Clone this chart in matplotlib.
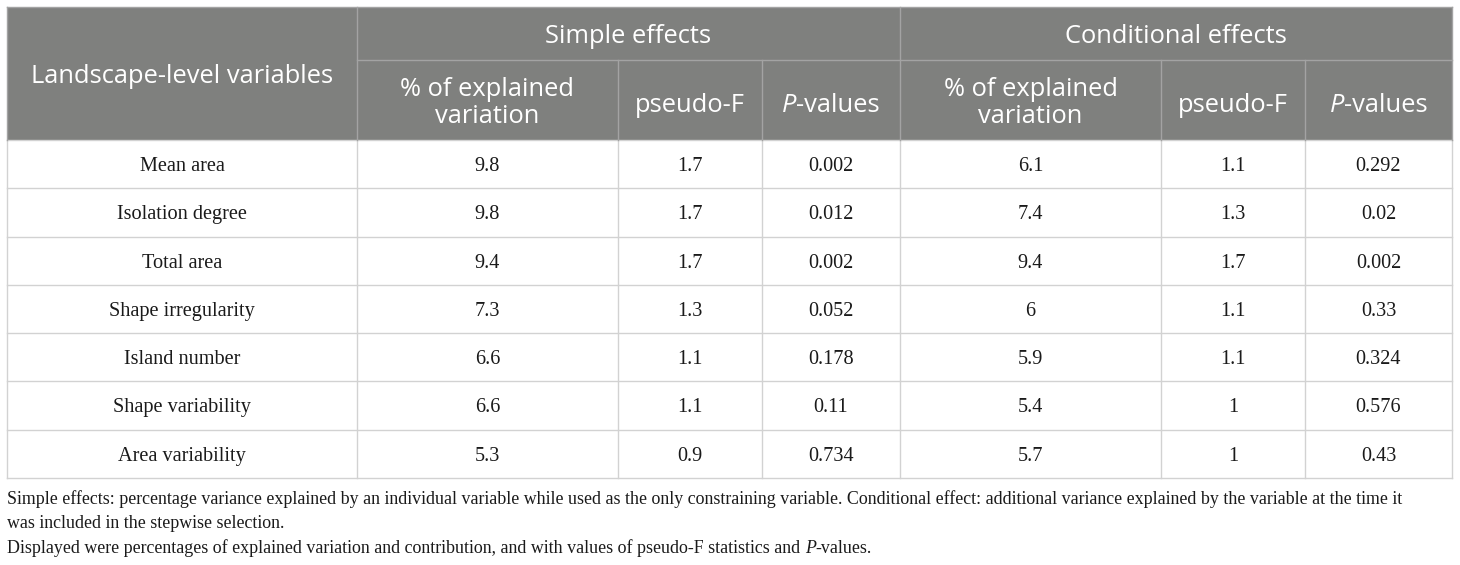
import matplotlib
matplotlib.use("Agg")
import matplotlib.pyplot as plt
from matplotlib.patches import Rectangle

variables = ["Mean area", "Isolation degree", "Total area", "Shape irregularity",
             "Island number", "Shape variability", "Area variability"]
simple_pct = ["9.8", "9.8", "9.4", "7.3", "6.6", "6.6", "5.3"]
simple_F = ["1.7", "1.7", "1.7", "1.3", "1.1", "1.1", "0.9"]
simple_P = ["0.002", "0.012", "0.002", "0.052", "0.178", "0.11", "0.734"]
cond_pct = ["6.1", "7.4", "9.4", "6", "5.9", "5.4", "5.7"]
cond_F = ["1.1", "1.3", "1.7", "1.1", "1.1", "1", "1"]
cond_P = ["0.292", "0.02", "0.002", "0.33", "0.324", "0.576", "0.43"]

group_labels = ["Simple effects", "Conditional effects"]
row_header = "Landscape-level variables"
sub_headers = [[("% of explained", "n")], [("pseudo-F", "n")], [("P", "i"), ("-values", "n")]]

foot1 = ("Simple effects: percentage variance explained by an individual variable while used as the only "
         "constraining variable. Conditional effect: additional variance explained by the variable at the time it")
foot2 = "was included in the stepwise selection."
foot3 = [("Displayed were percentages of explained variation and contribution, and with values of pseudo-F statistics and", "n"),
         (" ", "n"), ("P", "i"), ("-values.", "n")]

W, H = 1460, 565
fig = plt.figure(figsize=(W / 100, H / 100), dpi=100)
ax = fig.add_axes([0, 0, 1, 1])
ax.set_xlim(0, W)
ax.set_ylim(H, 0)
ax.axis("off")

xs = [7, 357, 618, 762, 900, 1161, 1305, 1452]
top, mid, hbot = 7, 60, 140
rowh = (478 - hbot) / len(variables)
bottom = hbot + rowh * len(variables)

HEAD_BG = "#7f807e"
HEAD_LINE = "#a3a3a3"
BODY_LINE = "#d2d2d2"
SANS = "Open Sans"
SERIF = "Liberation Serif"
HFS = 18.4
BFS = 14.6
FFS = 12.9
TXT = "#1a1a1a"

ax.add_patch(Rectangle((xs[0], top), xs[-1] - xs[0], hbot - top, facecolor=HEAD_BG, edgecolor="none", zorder=1))

renderer = fig.canvas.get_renderer()


def runs(xc, y, parts, family, size, color, ha="center"):
    objs = []
    widths = []
    for txt, st in parts:
        t = ax.text(0, y, txt, family=family, fontsize=size, color=color,
                    style="italic" if st == "i" else "normal", va="baseline", ha="left", zorder=5)
        if txt == " ":
            t.set_text("a a")
            w = t.get_window_extent(renderer=renderer).width
            t.set_text("aa")
            w -= t.get_window_extent(renderer=renderer).width
            t.set_text("")
        else:
            w = t.get_window_extent(renderer=renderer).width
        objs.append(t)
        widths.append(w)
    total = sum(widths)
    x = xc - total / 2 if ha == "center" else xc
    for t, w in zip(objs, widths):
        t.set_x(x)
        x += w


lw = 1.0
ax.plot([xs[0], xs[-1]], [top, top], color=HEAD_LINE, lw=lw, zorder=3)
ax.plot([xs[1], xs[-1]], [mid, mid], color=HEAD_LINE, lw=lw, zorder=3)
for x in [xs[0], xs[1], xs[4], xs[-1]]:
    ax.plot([x, x], [top, hbot], color=HEAD_LINE, lw=lw, zorder=3)
for x in [xs[2], xs[3], xs[5], xs[6]]:
    ax.plot([x, x], [mid, hbot], color=HEAD_LINE, lw=lw, zorder=3)

for i in range(len(variables) + 1):
    y = hbot + rowh * i
    ax.plot([xs[0], xs[-1]], [y, y], color=BODY_LINE, lw=lw, zorder=2)
for x in xs:
    ax.plot([x, x], [hbot, bottom], color=BODY_LINE, lw=lw, zorder=2)

runs((xs[0] + xs[1]) / 2, 83, [(row_header, "n")], SANS, HFS, "white")
runs((xs[1] + xs[4]) / 2, 43, [(group_labels[0], "n")], SANS, HFS, "white")
runs((xs[4] + xs[7]) / 2, 43, [(group_labels[1], "n")], SANS, HFS, "white")
for g in range(2):
    base = 1 + 3 * g
    c0 = (xs[base] + xs[base + 1]) / 2
    runs(c0, 96, sub_headers[0], SANS, HFS, "white")
    runs(c0, 123, [("variation", "n")], SANS, HFS, "white")
    runs((xs[base + 1] + xs[base + 2]) / 2, 112, sub_headers[1], SANS, HFS, "white")
    runs((xs[base + 2] + xs[base + 3]) / 2, 112, sub_headers[2], SANS, HFS, "white")

cols = [variables, simple_pct, simple_F, simple_P, cond_pct, cond_F, cond_P]
for i in range(len(variables)):
    y = hbot + rowh * i + 31
    for j, col in enumerate(cols):
        runs((xs[j] + xs[j + 1]) / 2, y, [(col[i], "n")], SERIF, BFS, TXT)

runs(xs[0], 504, [(foot1, "n")], SERIF, FFS, TXT, ha="left")
runs(xs[0], 528.5, [(foot2, "n")], SERIF, FFS, TXT, ha="left")
runs(xs[0], 553, foot3, SERIF, FFS, TXT, ha="left")

fig.savefig("out.png", dpi=100)
